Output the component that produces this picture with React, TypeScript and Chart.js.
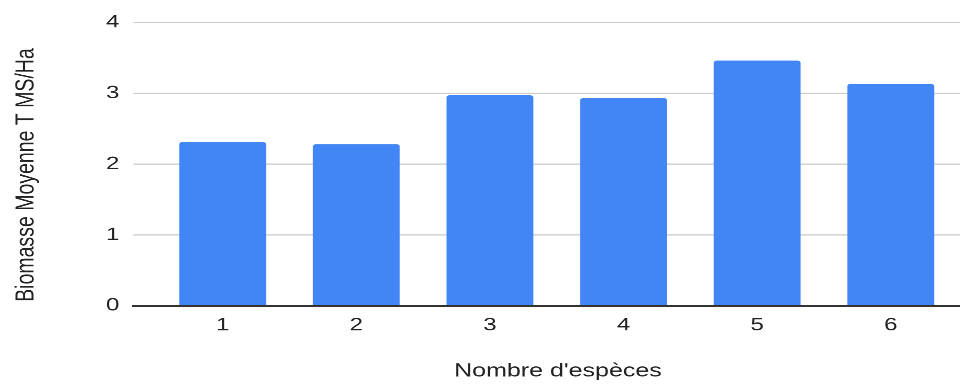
import React, { useEffect, useRef } from "react";
import { Chart, registerables } from "chart.js";

Chart.register(...registerables);

// ---- data ----
const speciesCounts = [1, 2, 3, 4, 5, 6];
const biomass = [2.31, 2.28, 2.97, 2.93, 3.46, 3.13];
const yTickValues = [0, 1, 2, 3, 4];
const xTitle = "Nombre d'espèces";
const yTitle = "Biomasse Moyenne T MS/Ha";

const FONT = "'Liberation Sans', Arial, Helvetica, sans-serif";

// axis titles, centred like the original (on the span of the category slots)
const axisTitlesPlugin = {
  id: "axisTitles",
  afterDraw(chart: any) {
    const { ctx, chartArea, scales } = chart;
    const xs = scales.x;
    const slotLeft = xs.getPixelForValue(speciesCounts[0] - 0.5);
    ctx.save();
    ctx.fillStyle = "#222222";
    ctx.textAlign = "center";
    ctx.textBaseline = "middle";
    // x title
    ctx.font = `25px ${FONT}`;
    ctx.fillText(xTitle, (slotLeft + chartArea.right) / 2, chart.height - 17);
    // y title
    ctx.translate(26.5, (chartArea.top + chartArea.bottom) / 2 + 14.7);
    ctx.rotate(-Math.PI / 2);
    ctx.font = `26px ${FONT}`;
    ctx.fillText(yTitle, 0, 0);
    ctx.restore();
  },
};

export default function App() {
  const ref = useRef<HTMLCanvasElement>(null);

  useEffect(() => {
    const canvas = ref.current;
    if (!canvas) return;
    const chart = new Chart(canvas, {
      type: "bar",
      data: {
        datasets: [
          {
            data: speciesCounts.map((x, i) => ({ x, y: biomass[i] })),
            backgroundColor: "#4285F4",
            borderRadius: 3,
            barPercentage: 0.65,
            categoryPercentage: 1,
          },
        ],
      },
      plugins: [axisTitlesPlugin],
      options: {
        responsive: false,
        animation: false,
        devicePixelRatio: 2,
        layout: { padding: { top: 29.7, left: 0, right: 0, bottom: 0 } },
        plugins: {
          legend: { display: false },
          tooltip: { enabled: false },
        },
        scales: {
          x: {
            type: "linear",
            offset: false,
            min: 0.331,
            max: 6.518,
            afterBuildTicks: (s: any) => {
              s.ticks = speciesCounts.map((v) => ({ value: v }));
            },
            afterFit: (s: any) => {
              s.height = 104.4;
            },
            grid: { display: false },
            border: { display: true, color: "#333333", width: 2.5 },
            ticks: {
              padding: 4,
              color: "#222222",
              font: { family: FONT, size: 24 },
            },
            title: { display: false, text: xTitle },
          },
          y: {
            min: 0,
            max: 4,
            afterBuildTicks: (s: any) => {
              s.ticks = yTickValues.map((v) => ({ value: v }));
            },
            afterFit: (s: any) => {
              s.width = 133.3;
            },
            grid: { color: "#cccccc", lineWidth: 1.5, drawTicks: false },
            border: { display: false },
            ticks: {
              padding: 14,
              color: "#222222",
              font: { family: FONT, size: 24 },
            },
            title: { display: false, text: yTitle },
          },
        },
      },
    });
    return () => chart.destroy();
  }, []);

  return (
    <div
      style={{
        position: "fixed",
        left: 0,
        top: 0,
        width: 960,
        height: 384,
        overflow: "hidden",
        background: "#ffffff",
      }}
    >
      <div
        style={{
          width: 960,
          height: 512,
          transform: "scaleY(0.75)",
          transformOrigin: "0 0",
        }}
      >
        <canvas ref={ref} width={960} height={512} />
      </div>
    </div>
  );
}
